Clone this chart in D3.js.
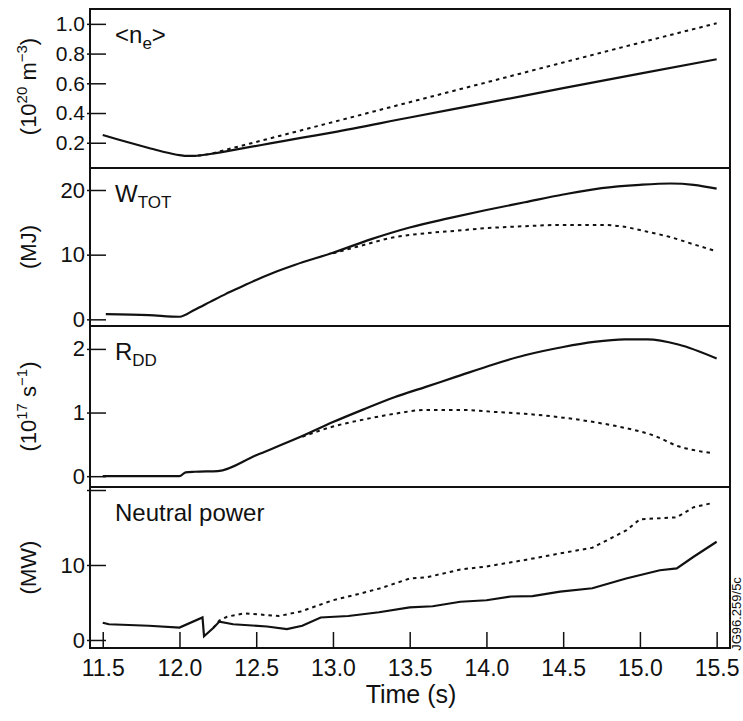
<!DOCTYPE html>
<html>
<head>
<meta charset="utf-8">
<script src="https://cdn.jsdelivr.net/npm/d3@7"></script>
<style>
  body { margin: 0; background: #fff; }
  text { font-family: "Liberation Sans", Arial, sans-serif; fill: #111; }
</style>
</head>
<body>
<div id="chart"></div>
<script>
// time axis
var timeTicks = [11.5, 12.0, 12.5, 13.0, 13.5, 14.0, 14.5, 15.0, 15.5];

// <ne> (10^20 m^-3)
var neSolid = [[11.5,0.252],[11.6,0.222],[11.7,0.193],[11.8,0.165],[11.9,0.138],[12.0,0.117],[12.05,0.111],[12.1,0.112],[12.2,0.124],[12.4,0.16],[12.6,0.197],[12.8,0.234],[13.0,0.27],[13.5,0.37],[14.0,0.468],[14.5,0.567],[15.0,0.665],[15.5,0.762]];
var neDash = [[12.12,0.114],[12.2,0.125],[12.3,0.152],[12.6,0.232],[13.0,0.339],[13.5,0.473],[14.0,0.606],[14.5,0.74],[15.0,0.873],[15.5,1.004]];

// W_TOT (MJ)
var wSolid = [[11.52,0.81],[11.8,0.65],[12.0,0.4],[12.1,1.5],[12.2,2.7],[12.3,3.9],[12.4,5.0],[12.5,6.1],[12.6,7.1],[12.75,8.4],[13.0,10.3],[13.25,12.4],[13.5,14.2],[13.75,15.6],[14.0,16.9],[14.25,18.1],[14.5,19.3],[14.75,20.3],[15.0,20.8],[15.2,21.0],[15.35,20.8],[15.5,20.2]];
var wDash = [[13.0,10.2],[13.2,11.5],[13.4,12.7],[13.6,13.3],[13.8,13.7],[14.0,14.1],[14.25,14.4],[14.5,14.6],[14.75,14.6],[14.9,14.3],[15.0,13.8],[15.2,12.7],[15.35,11.6],[15.5,10.5]];

// R_DD (10^17 s^-1)
var rSolid = [[11.5,0],[12.0,0],[12.04,0.06],[12.1,0.07],[12.25,0.08],[12.5,0.33],[12.8,0.63],[13.0,0.85],[13.2,1.05],[13.4,1.24],[13.6,1.40],[13.8,1.56],[14.05,1.76],[14.25,1.9],[14.5,2.03],[14.7,2.11],[14.9,2.15],[15.05,2.15],[15.25,2.07],[15.5,1.85]];
var rDash = [[12.8,0.62],[13.0,0.78],[13.2,0.89],[13.4,0.98],[13.6,1.04],[13.85,1.04],[14.05,1.01],[14.25,0.98],[14.5,0.92],[14.7,0.85],[14.9,0.76],[15.1,0.63],[15.25,0.47],[15.35,0.41],[15.48,0.36]];

// Neutral power (MW)
var pSolid = [[11.5,2.3],[11.54,2.1],[11.8,1.9],[12.0,1.65],[12.15,3.0],[12.16,0.5],[12.22,1.6],[12.26,2.45],[12.35,2.1],[12.57,1.8],[12.7,1.45],[12.8,1.9],[12.92,3.0],[13.1,3.2],[13.3,3.7],[13.5,4.35],[13.65,4.5],[13.83,5.1],[14.0,5.3],[14.16,5.8],[14.3,5.85],[14.48,6.45],[14.69,6.9],[14.91,8.2],[15.13,9.3],[15.24,9.55],[15.35,11.1],[15.5,13.1]];
var pDash = [[12.22,1.6],[12.26,2.6],[12.31,3.1],[12.42,3.55],[12.65,3.2],[12.79,3.8],[13.0,5.3],[13.18,6.2],[13.31,6.9],[13.5,8.2],[13.61,8.35],[13.83,9.4],[14.0,9.8],[14.26,10.7],[14.48,11.55],[14.69,12.3],[14.91,14.6],[15.0,16.1],[15.24,16.35],[15.35,17.7],[15.48,18.3]];

var W = 743, H = 721;
var left = 90, right = 730;

var svg = d3.select("#chart").append("svg")
  .attr("width", W).attr("height", H);

var x = d3.scaleLinear().domain([11.417, 15.587]).range([left, right]);

var panels = [
  {top: 9, bottom: 168, domain: [0.03, 1.10], ticks: [0.2, 0.4, 0.6, 0.8, 1.0], fmt: d3.format(".1f"),
   solid: neSolid, dash: neDash, smooth: true,
   label: [["<n", 0], ["e", 1], [">", 0]], unit: [["(10", 0], ["20", -1], [" m", 0], ["−3", -1], [")", 0]]},
  {top: 168, bottom: 326, domain: [-1.03, 23.4], ticks: [0, 10, 20], fmt: d3.format("d"),
   solid: wSolid, dash: wDash, smooth: true,
   label: [["W", 0], ["TOT", 1]], unit: [["(MJ)", 0]]},
  {top: 326, bottom: 487, domain: [-0.17, 2.36], ticks: [0, 1, 2], fmt: d3.format("d"),
   solid: rSolid, dash: rDash, smooth: true,
   label: [["R", 0], ["DD", 1]], unit: [["(10", 0], ["17", -1], [" s", 0], ["−1", -1], [")", 0]]},
  {top: 487, bottom: 648, domain: [-1.07, 20.4], ticks: [0, 10, 20], fmt: function(d) { return d === 20 ? "" : d; },
   solid: pSolid, dash: pDash, smooth: false,
   label: [["Neutral power", 0]], unit: [["(MW)", 0]]}
];

panels.forEach(function(p, i) {
  var y = d3.scaleLinear().domain(p.domain).range([p.bottom, p.top]);
  var g = svg.append("g");

  // frame
  g.append("rect")
    .attr("x", left).attr("y", p.top)
    .attr("width", right - left).attr("height", p.bottom - p.top)
    .attr("fill", "none").attr("stroke", "#111").attr("stroke-width", 2);

  // y ticks, pointing inwards
  var yAxis = d3.axisLeft(y).tickValues(p.ticks).tickSize(-16).tickPadding(6).tickFormat(p.fmt);
  var ya = g.append("g").attr("transform", "translate(" + left + ",0)").call(yAxis);
  ya.select(".domain").remove();
  ya.selectAll(".tick line").attr("stroke", "#111").attr("stroke-width", 1.5).attr("x1", -3);
  ya.selectAll(".tick text")
    .attr("x", -5)
    .style("font-family", "'Liberation Sans', Arial, sans-serif")
    .style("font-size", i === 0 ? "21px" : "22px").attr("fill", "#111");

  var line = d3.line()
    .x(function(d) { return x(d[0]); })
    .y(function(d) { return y(d[1]); })
    .curve(p.smooth ? d3.curveMonotoneX : d3.curveLinear);

  g.append("path").attr("d", line(p.dash))
    .attr("fill", "none").attr("stroke", "#111").attr("stroke-width", 2)
    .attr("stroke-dasharray", "3.5,4");
  g.append("path").attr("d", line(p.solid))
    .attr("fill", "none").attr("stroke", "#111").attr("stroke-width", 2.2);

  // panel label
  var lt = g.append("text").attr("x", 115).attr("y", p.top + 34)
    .style("font-size", "24px");
  p.label.forEach(function(s) {
    var t = lt.append("tspan").text(s[0]);
    if (s[1] === 1) t.attr("dy", 6).style("font-size", "17px");
    else if (lt.selectAll("tspan").size() > 1) t.attr("dy", -6);
  });

  // unit label, rotated
  var cy = (p.top + p.bottom) / 2;
  var ut = g.append("text")
    .attr("transform", "translate(36," + (cy + (i === 0 ? -2 : 0)) + ") rotate(-90)")
    .attr("text-anchor", "middle")
    .style("font-size", "22px");
  var prev = 0;
  p.unit.forEach(function(s) {
    var t = ut.append("tspan").text(s[0]);
    var shift = s[1] === -1 ? -9 : 0;
    if (shift !== prev) t.attr("dy", shift - prev);
    if (s[1] === -1) t.style("font-size", "15px");
    prev = shift;
  });

  // time ticks in the bottom panel
  if (i === panels.length - 1) {
    var xAxis = d3.axisBottom(x).tickValues(timeTicks).tickSize(-16).tickPadding(12)
      .tickFormat(d3.format(".1f"));
    var xa = g.append("g").attr("transform", "translate(0," + p.bottom + ")").call(xAxis);
    xa.select(".domain").remove();
    xa.selectAll(".tick line").attr("stroke", "#111").attr("stroke-width", 1.5);
    xa.selectAll(".tick text")
      .style("font-family", "'Liberation Sans', Arial, sans-serif")
      .style("font-size", "23px").attr("fill", "#111");
  }
});

svg.append("text").attr("x", 411).attr("y", 703)
  .attr("text-anchor", "middle").style("font-size", "25px").text("Time (s)");

svg.append("text")
  .attr("transform", "translate(741,614) rotate(-90)")
  .attr("text-anchor", "middle").style("font-size", "13px").text("JG96.259/5c");
</script>
</body>
</html>
